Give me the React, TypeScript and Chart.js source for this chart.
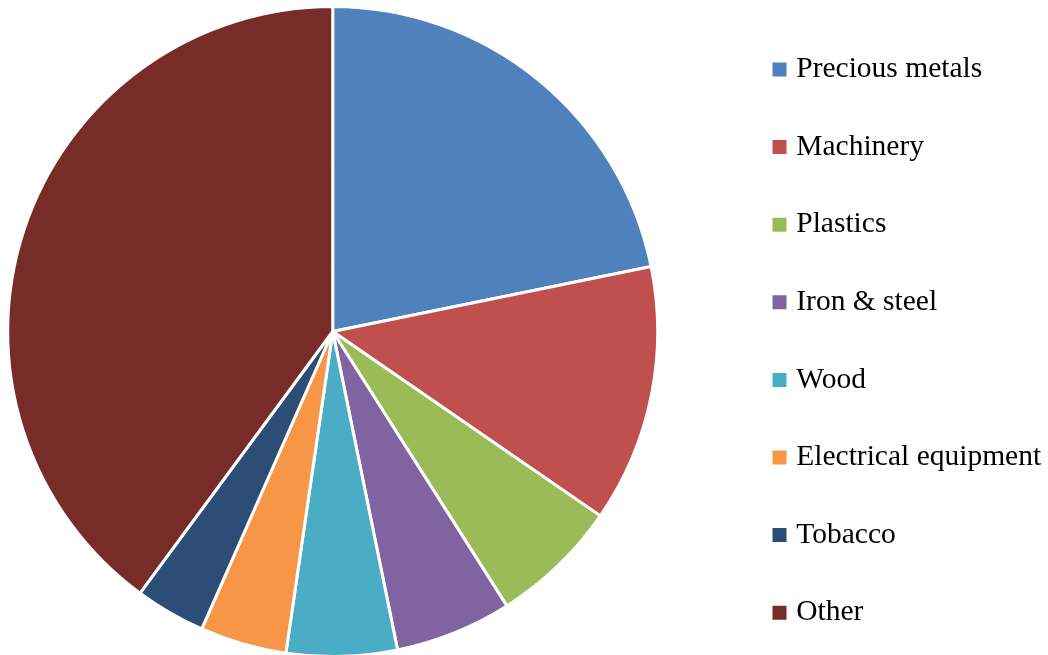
import React, { useEffect, useRef } from "react";
import { Chart, registerables } from "chart.js";

Chart.register(...registerables);

const categories = [
  "Precious metals",
  "Machinery",
  "Plastics",
  "Iron & steel",
  "Wood",
  "Electrical equipment",
  "Tobacco",
  "Other",
];
const shares = [21.8, 12.8, 6.4, 5.8, 5.5, 4.3, 3.5, 39.9];
const sliceColors = [
  "#4F81BD",
  "#C0504D",
  "#9BBB59",
  "#8064A2",
  "#4BACC6",
  "#F79646",
  "#2C4D75",
  "#772C2A",
];

const FONT_FAMILY = "'Liberation Serif', 'Times New Roman', serif";
const FONT_SIZE = 29.5;
const SHIFT_X = 64.2;
const SHIFT_Y = 20;
const CANVAS_W = 1250;
const CANVAS_H = 703;
const LEGEND_PAD = 48.1;
const BOX_W = 4;
const BOX_H = 14;
const LEGEND_LEFT = 793.4;

export default function App() {
  const ref = useRef<HTMLCanvasElement>(null);

  useEffect(() => {
    const canvas = ref.current!;
    const m = document.createElement("canvas").getContext("2d")!;
    m.font = `normal ${FONT_SIZE}px ${FONT_FAMILY}`;
    const tw = Math.max(...categories.map((c) => m.measureText(c).width));
    const legendW = LEGEND_PAD + BOX_W + FONT_SIZE / 2 + tw + 10;
    const padRight = CANVAS_W - LEGEND_LEFT - legendW;
    const baseGen = (Chart as any).overrides.doughnut.plugins.legend.labels.generateLabels;

    const chart = new Chart(canvas, {
      type: "pie",
      data: {
        labels: categories,
        datasets: [
          {
            data: shares,
            backgroundColor: sliceColors,
            borderColor: "#ffffff",
            borderWidth: 3,
            radius: 325,
          } as any,
        ],
      },
      options: {
        responsive: false,
        animation: false,
        devicePixelRatio: 1,
        layout: { padding: { left: 0, right: padRight, top: 0, bottom: 0 } },
        plugins: {
          tooltip: { enabled: false },
          legend: {
            position: "right",
            align: "center",
            title: {
              display: true,
              text: "",
              font: { size: 10, lineHeight: 1 },
              padding: { top: 4.6, bottom: 4.6 },
            },
            labels: {
              font: { family: FONT_FAMILY, size: FONT_SIZE },
              color: "#000000",
              padding: LEGEND_PAD,
              boxWidth: BOX_W,
              boxHeight: BOX_H,
              usePointStyle: true,
              pointStyle: "rect",
              generateLabels: (c: any) =>
                baseGen(c).map((l: any) => ({ ...l, lineWidth: 0, pointStyle: "rect" })),
            },
          },
        },
      } as any,
    });
    return () => chart.destroy();
  }, []);

  return (
    <div
      style={{
        position: "absolute",
        left: 0,
        top: 0,
        width: 1048,
        height: 655,
        overflow: "hidden",
        background: "#ffffff",
      }}
    >
      <canvas
        ref={ref}
        width={CANVAS_W}
        height={CANVAS_H}
        style={{
          position: "absolute",
          left: -SHIFT_X,
          top: -SHIFT_Y,
          width: CANVAS_W,
          height: CANVAS_H,
        }}
      />
    </div>
  );
}
